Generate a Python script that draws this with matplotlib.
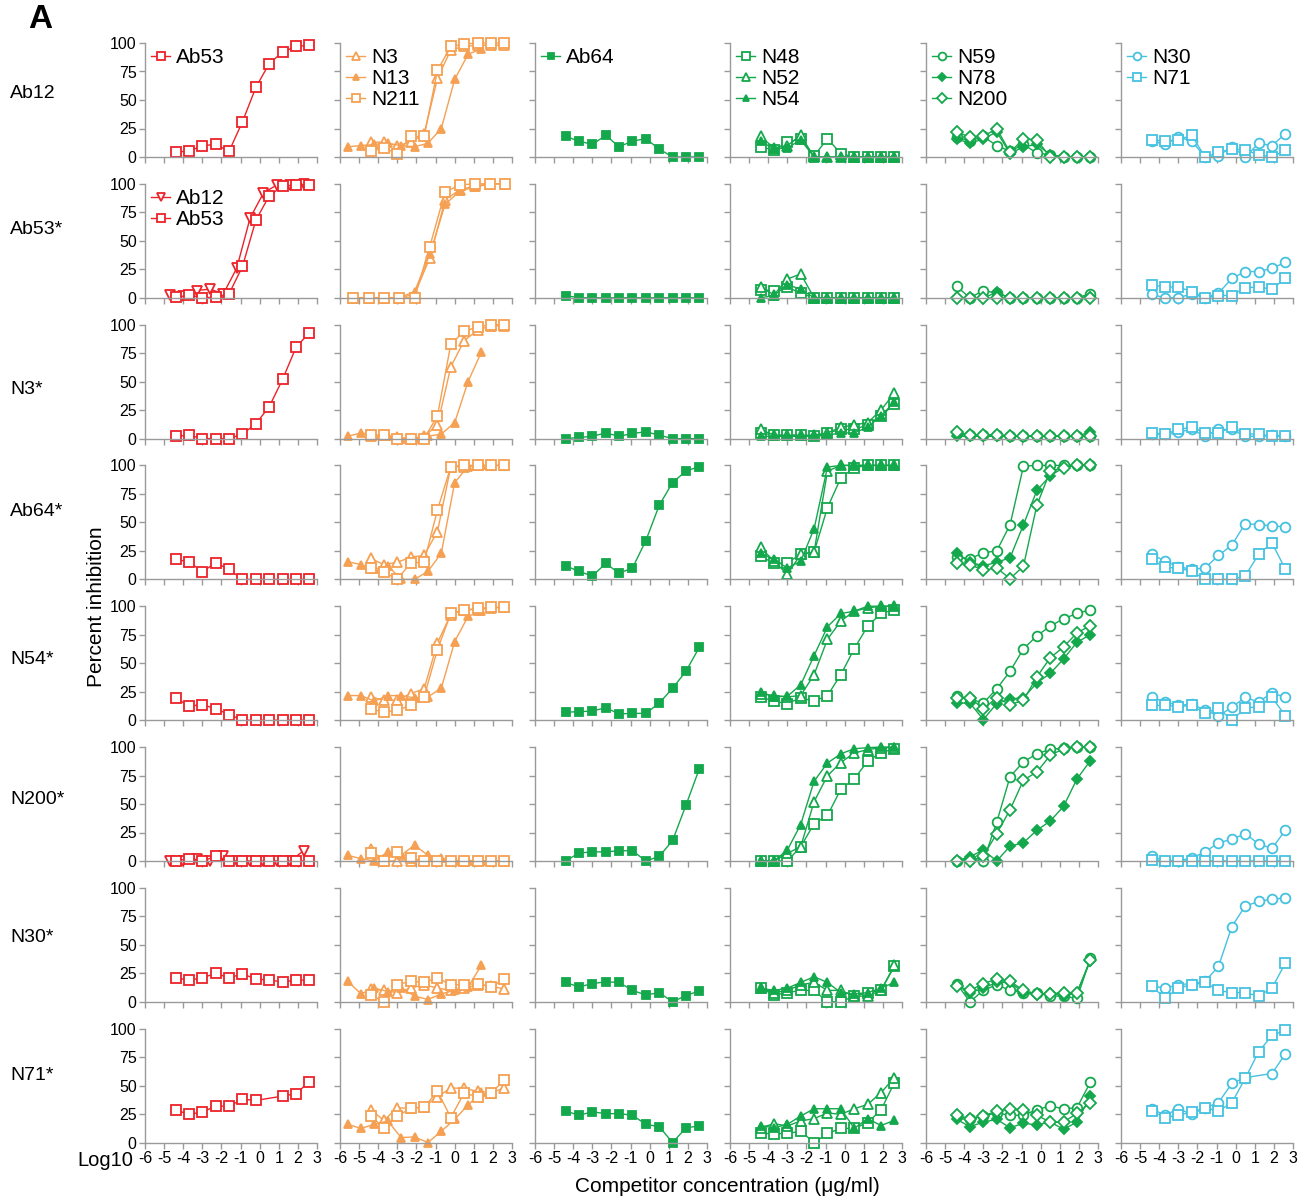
import numpy as np
import matplotlib
matplotlib.use("Agg")
import matplotlib.pyplot as plt

plt.rcParams['font.family'] = ['Liberation Sans', 'DejaVu Sans']

RED = '#ec2229'
ORANGE = '#f5a052'
GREEN = '#14a84c'
CYAN = '#45c2e0'

# concentrations (log10 ug/ml), 5-fold dilutions
X = [-4.4, -3.7, -3.0, -2.3, -1.6, -0.9, -0.2, 0.5, 1.2, 1.9, 2.6]
X_N13 = [-5.6, -4.9, -4.2, -3.5, -2.8, -2.1, -1.4, -0.7, 0.0, 0.7, 1.4]
X_AB12 = [-4.7, -4.0, -3.3, -2.6, -1.9, -1.2, -0.5, 0.2, 0.9, 1.6, 2.3]
X_SIX = [-5.3, -4.5, -3.7, -2.9, -2.1, -1.3, -0.5, 0.3, 1.05, 1.85, 2.65]

ROW_NAMES = ['Ab12', 'Ab53*', 'N3*', 'Ab64*', 'N54*', 'N200*', 'N30*', 'N71*']
ROW_LABEL_Y = [94, 229, 390, 511, 660, 800, 938, 1075]
nan = np.nan

ab12 = {
    'Ab53': [4.5, 5, 10, 11, 5, 31, 61, 82, 92, 97, 98],
    'N3': [13, 13, 10, 13, 20, 69, 94, 97, 98, 98, 98],
    'N13': [9, 10, 11, 12, 10, 9, 12, 25, 68, 90, 95],
    'N211': [5, 8, 3, 18, 18, 76, 97, 99, 100, 100, 100],
    'Ab64': [18, 14, 11, 19, 9, 14, 16, 7, 0, 0, 0],
    'N48': [9, 6, 13, 16, 1, 16, 3, 0, 0, 0, 0],
    'N52': [18, 8, 10, 19, 0, 0, 0, 0, 0, 0, 0],
    'N54': [14, 7, 8, 15, 0, 0, 0, 0, 0, 0, 0],
    'N59': [17.5, 14, 18, 10, 5, 11, 3.5, 2, 0, 0, 0],
    'N78': [16, 12, 16, 22, 3, 9, 11, 2, 0, 0, 0],
    'N200': [22, 17.5, 18, 25, 4, 16, 15, 0, 0, 0, 0],
    'N30': [14, 11, 17.5, 14, 0, 1, 9, 0, 12, 10, 20.5],
    'N71': [15, 14, 15, 19, 0, 4, 7, 6, 2, 0, 6],
}
ab53 = {
    'Ab12': [2.6, 1.8, 6.4, 7.6, 3.5, 26, 70, 92, 99, 99, 100],
    'Ab53': [0.3, 2.3, 0, 0.6, 3.5, 27.5, 68, 89.5, 98, 99, 99],
    'N3': [0, 0, 0, 0, 3, 35, 86, 95, 98, 100, 100],
    'N13': [0, 0, 0, 0, 5.5, 38, 82, 94, 97, 100, 100],
    'N211': [0, 0, 0, 0, 0, 45, 93, 99, 100, 100, 100],
    'Ab64': [2, 0, 0, 0, 0, 0, 0, 0, 0, 0, 0],
    'N48': [7, 6.4, 9.4, 4, 0, 0, 0, 0, 0, 0, 0],
    'N52': [9.4, 2.6, 16.4, 21, 0, 0, 0, 0, 0, 0, 0],
    'N54': [0, 2, 11.4, 7.6, 0, 0, 0, 0, 0, 0, 0],
    'N59': [10, 0, 6.4, 4, 0, 0, 0, 0, 0, 0, 3.5],
    'N78': [0, 0, 0, 4.7, 0, 0, 0, 0, 0, 0, 1],
    'N200': [0, 0, 0, 0, 0, 0, 0, 0, 0, 0, 0],
    'N30': [3, 0, 0, 3.5, 0, 4, 17, 23, 23, 26, 31],
    'N71': [11.4, 9.4, 9.4, 5.5, 0, 2, 2, 9, 9.4, 7.6, 17],
}
n3 = {
    'Ab53': [2, 3, 0, 0, 0, 4, 13, 28, 52, 80, 93],
    'N3': [2, 3, 1, 0, 2, 12, 63, 86, 95, 99, 99],
    'N13': [2, 5, 3, 2, 0, 0, 2, 4, 14, 50, 76],
    'N211': [3, 3, 0, 0, 0, 20, 83, 94, 98, 100, 100],
    'Ab64': [0, 1, 2, 5, 2, 4.5, 6, 3, 0, 0, 0],
    'N48': [5, 3, 3, 3, 2, 5, 8, 8, 12, 20, 30],
    'N52': [8, 3, 3, 3, 3, 5, 10, 12, 14, 25, 40],
    'N54': [2, 2, 2, 2, 2, 3, 5, 5, 10, 20, 32],
    'N59': [5, 3, 3, 3, 2, 2, 2, 2, 2, 2, 2],
    'N78': [2, 2, 2, 2, 2, 2, 2, 2, 2, 2, 6],
    'N200': [6, 3, 3, 3, 2, 2, 2, 2, 2, 2, 2],
    'N30': [4, 4, 6, 8, 2, 8, 8, 2, 2, 3, 2],
    'N71': [5, 4, 8, 10, 5, 5, 10, 4, 4, 2, 2],
}
ab64 = {
    'Ab53': [17.5, 15.5, 6.7, 14.6, 8.8, 0, 0, 0, 0, 0, 0],
    'N3': [18.4, 13, 15, 19.6, 21, 42, 99, 99, 100, 100, 100],
    'N13': [15.5, 13, 9, 12, 0, 0, 7, 23, 85, 99, 100],
    'N211': [9.6, 6.4, 0, 14.6, 15, 61, 99, 100, 100, 100, 100],
    'Ab64': [12, 7, 3, 14, 5.5, 10, 34, 65, 85, 95, 99],
    'N48': [20.5, 14, 14.6, 22, 24, 63, 89, 98, 100, 100, 100],
    'N52': [28, 16, 4.4, 22, 24, 95, 100, 100, 100, 100, 100],
    'N54': [23, 17.5, 10, 16, 44.4, 98.5, 100, 100, 100, 100, 100],
    'N59': [20, 18, 23.4, 25, 48, 99.4, 100, 100, 100, 100, 100],
    'N78': [23, 15, 12, 15, 19, 48, 78, 91, 98, 100, 100],
    'N200': [14, 13, 8, 10, 0.6, 11.7, 65, 95, 98, 100, 100],
    'N30': [22, 16, 11, 9, 10, 21, 30, 49, 48, 47, 46],
    'N71': [17.5, 10.5, 10, 7, 0, 0, 0, 3, 22, 32, 9],
}
n54 = {
    'Ab53': [19.6, 12.3, 13.7, 10, 5, 0, 0, 0, 0, 0, 0],
    'N3': [20.5, 17.5, 17.5, 23.4, 27.5, 68, 92.7, 97, 97, 98.5, 99],
    'N13': [21.6, 21.6, 16.7, 21.6, 21.6, 19.6, 20.5, 28, 69, 91, 96],
    'N211': [10, 7, 8.8, 12.9, 20.5, 62, 93.6, 96.5, 98, 99, 99],
    'Ab64': [7, 7.5, 8, 11, 5.5, 6, 6, 15, 28, 43, 64],
    'N48': [20.5, 16.7, 14.6, 19.6, 16.7, 21.6, 40, 62.6, 82.5, 93.6, 97],
    'N52': [23.4, 21.6, 20.5, 21.6, 40, 71, 87, 95.6, 98.5, 100, 100],
    'N54': [24.6, 20.5, 21, 31, 56.7, 82, 93.6, 95.6, 100, 100, 100],
    'N59': [21.6, 18.7, 15, 27.5, 43, 62.6, 74, 82.5, 89, 93.6, 97],
    'N78': [15, 15, 0.6, 14.6, 18.7, 19.6, 32.7, 41, 53.8, 68.4, 75],
    'N200': [19.6, 19.6, 10, 19.6, 13.7, 17.5, 38, 54.7, 64.3, 76.6, 83],
    'N30': [20, 16, 13, 14, 9, 3.5, 11.5, 20, 16, 24, 20],
    'N71': [13, 13, 12, 13, 6, 10.6, 0, 10.6, 12, 20, 4],
}
n200 = {
    'Ab12': [0, 0, 2, 0, 4, 0, 0, 0, 0, 0, 9],
    'Ab53': [0, 2, 0, 4, 0, 0, 0, 0, 0, 0, 0],
    'N3': [10.5, 0, 0, 0, 0, 0, 0, 0, 0, 0, 0],
    'N13': [5, 2, 0, 8, 5, 14, 5, 2.6, 0, 0, 0],
    'N211': [7, 0, 8, 2.6, 0, 0, 0, 0, 0, 0, 0],
    'Ab64': [0, 7, 8, 8, 9, 9, 0, 4, 18, 49, 81],
    'N48': [0, 0, 0, 12.5, 32.8, 40, 63, 72, 87.5, 95, 98.5],
    'N52': [0, 0, 6.7, 12.5, 52, 74.8, 86.4, 94.8, 97.7, 99.4, 99.4],
    'N54': [0, 0, 9.6, 32, 70, 86, 94, 98.5, 99.4, 100, 100],
    'N59': [0, 2, 0, 34, 74, 87, 94, 98, 99, 100, 100],
    'N78': [0, 3.8, 9.6, 0, 13, 16, 27, 35, 48, 72, 88],
    'N200': [0, 0, 4.3, 24, 45, 71, 78, 92.7, 98.5, 100, 100],
    'N30': [4.4, 0, 0, 2.6, 8, 16, 19, 24, 15, 11, 27],
    'N71': [1, 0, 0, 0, 0, 0, 0, 0, 0, 0, 0],
}
n30 = {
    'Ab53': [21, 19, 21, 25, 21, 24.5, 20, 19, 17.5, 19, 19],
    'N3': [11, 10, 8, 12, 15, 12, 10, 12, 15, 14, 11],
    'N13': [18, 7, 12, 9, 12, 5, 2, 7, 10, 13, 32],
    'N211': [6, 0, 15, 18, 17, 21, 15, 15, 16, 13, 20],
    'Ab64': [17, 13, 16, 17.5, 17, 10, 6, 8, 0, 5.5, 9.6],
    'N48': [12, 6, 8, 10, 10, 0, 0, 5, 8, 10, 31],
    'N52': [12, 8, 10, 15, 17, 10, 10, 5, 5, 10, 32],
    'N54': [12, 10, 12, 17, 22, 17, 8, 7, 8, 12, 17],
    'N59': [16, 0, 10, 15, 10, 8, 8, 5, 5, 3, 38],
    'N78': [14, 8, 12, 17, 17, 8, 6, 8, 5, 8, 36],
    'N200': [14, 10, 16, 20, 18, 10, 7, 7, 8, 8, 37],
    'N30': [14, 12, 15, 16, 18, 31, 66, 84, 88, 90, 91],
    'N71': [14, 3, 12, 15, 17, 10, 8, 8, 5, 12, 34],
}
n71 = {
    'Ab53': [28.6, 24.8, 26.8, 32, 32, 38, 37, nan, 40.8, 42.9, 53.4],
    'N3': [29, 19.5, 30.6, 30, 31.5, 40, 48, 47.5, 45, 43.7, 48],
    'N13': [16, 12.5, 16, 19, 4.4, 5, 0, 10, 20.4, 33, 44],
    'N211': [23.3, 13, 23.3, 30, 31, 45, 22, 43.7, 40, 43.7, 54.5],
    'Ab64': [27.7, 24, 27, 25.4, 25.4, 24, 16, 14, 0, 13, 14.6],
    'N48': [8, 7.9, 8, 10, 0, 8, 12.5, 12.5, 17.5, 28.6, 52.5],
    'N52': [13, 16.6, 14.6, 19, 21, 26, 24.8, 29.7, 33.5, 43.7, 57],
    'N54': [15, 13, 16, 23.3, 29.7, 29.7, 29.7, 12.5, 21, 15, 19.5],
    'N59': [23.3, 20.4, 23.3, 26, 24, 24, 29, 32, 29.7, 30.6, 53],
    'N78': [20.4, 14, 18, 20.4, 13, 17, 15.5, 18, 11.7, 18, 40.8],
    'N200': [24, 21, 23.3, 27.7, 29.7, 28.6, 24, 18, 18, 25.7, 35],
    'N30': [29.7, 24, 29.7, 24.8, 30.6, 35, 52, 57, nan, 60.6, 77.8],
    'N71': [27.7, 21.9, 24, 26.8, 30.6, 27.7, 35, 56.3, 79.6, 94, 98.5],
}
ROWS = [ab12, ab53, n3, ab64, n54, n200, n30, n71]

COLUMNS = [['Ab12', 'Ab53'], ['N3', 'N13', 'N211'], ['Ab64'],
           ['N48', 'N52', 'N54'], ['N59', 'N78', 'N200'], ['N30', 'N71']]

# color, marker, filled, size
STYLE = {
    'Ab12': (RED, 'v', False, 7), 'Ab53': (RED, 's', False, 7),
    'N3': (ORANGE, '^', False, 7), 'N13': (ORANGE, '^', True, 5.5),
    'N211': (ORANGE, 's', False, 7), 'Ab64': (GREEN, 's', True, 6),
    'N48': (GREEN, 's', False, 7), 'N52': (GREEN, '^', False, 7),
    'N54': (GREEN, '^', True, 5.5), 'N59': (GREEN, 'o', False, 7),
    'N78': (GREEN, 'D', True, 5.5), 'N200': (GREEN, 'D', False, 6),
    'N30': (CYAN, 'o', False, 7), 'N71': (CYAN, 's', False, 7),
}


def xs_for(row, name):
    if row == 1 and name in ('N3', 'N13', 'N211'):
        return X_SIX
    if name == 'N13':
        return X_N13
    if name == 'Ab12':
        return X_AB12
    return X


W, H = 1306, 1202
fig = plt.figure(figsize=(W / 100, H / 100), dpi=100)

col_left = [145, 340, 535, 730, 926, 1121]
pw, ph = 172, 114
row_top = [43 + 140.8 * j for j in range(8)]
grey = '#9a9a9a'

for r, data in enumerate(ROWS):
    for c, names in enumerate(COLUMNS):
        ax = fig.add_axes([col_left[c] / W, 1 - (row_top[r] + ph) / H, pw / W, ph / H])
        handles = []
        for name in names:
            if name not in data:
                continue
            if r == 0 and name == 'Ab12':
                continue
            color, mk, filled, ms = STYLE[name]
            x = np.array(xs_for(r, name))
            y = np.array(data[name], dtype=float)
            m = ~np.isnan(y)
            h, = ax.plot(x[m], y[m], color=color, lw=1.0, marker=mk, ms=ms, mew=1.3,
                         mfc=color if filled else 'white', mec=color, clip_on=False,
                         label=name)
            handles.append(h)
        ax.set_xlim(-6, 3)
        ax.set_ylim(0, 100)
        for s in ('top', 'right'):
            ax.spines[s].set_visible(False)
        for s in ('left', 'bottom'):
            ax.spines[s].set_color(grey)
            ax.spines[s].set_linewidth(1.0)
        ax.set_xticks(range(-6, 4))
        ax.set_yticks([0, 25, 50, 75, 100])
        ax.tick_params(direction='out', length=4, width=1, color=grey,
                       labelsize=11.5, pad=2)
        if c != 0:
            ax.set_yticklabels([])
        if r != 7:
            ax.set_xticklabels([])
        else:
            ax.set_xticklabels([str(v) for v in range(-6, 4)])
        if r == 0 or (r == 1 and c == 0):
            ax.legend(handles=handles, loc='upper left', bbox_to_anchor=(0.0, 1.01),
                      frameon=False, fontsize=15, handlelength=0.9, handletextpad=0.3,
                      labelspacing=0.1, borderpad=0.1, borderaxespad=0.2,
                      markerscale=0.8, numpoints=1)
    fig.text(10 / W, 1 - ROW_LABEL_Y[r] / H, ROW_NAMES[r], fontsize=14,
             ha='left', va='center')

fig.text(28 / W, 1 - 20 / H, 'A', fontsize=24, fontweight='bold', ha='left', va='center')
fig.text(77 / W, 1 - 1161 / H, 'Log10', fontsize=14.5, ha='left', va='center')
fig.text(97 / W, 1 - 607 / H, 'Percent inhibition', fontsize=15, rotation=90,
         ha='center', va='center')
fig.text(727 / W, 1 - 1186 / H, 'Competitor concentration (\u03bcg/ml)', fontsize=15,
         ha='center', va='center')

fig.savefig('out.png', dpi=100)
